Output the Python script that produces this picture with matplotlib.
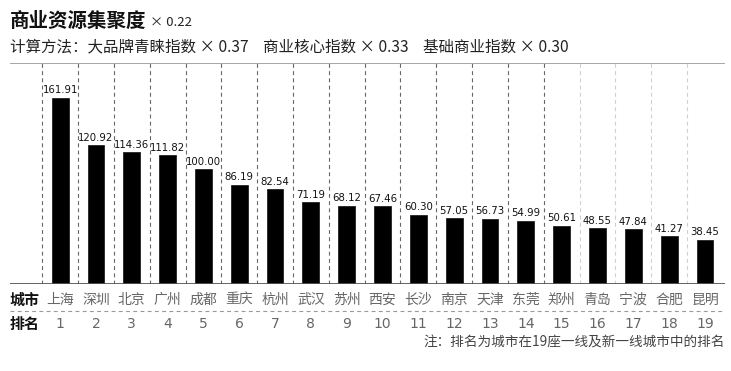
import numpy as np
import matplotlib.pyplot as plt

cities = ["上海", "深圳", "北京", "广州", "成都", "重庆", "杭州", "武汉", "苏州", "西安",
          "长沙", "南京", "天津", "东莞", "郑州", "青岛", "宁波", "合肥", "昆明"]
values = [161.91, 120.92, 114.36, 111.82, 100.00, 86.19, 82.54, 71.19, 68.12, 67.46,
          60.30, 57.05, 56.73, 54.99, 50.61, 48.55, 47.84, 41.27, 38.45]
ranks = list(range(1, 20))
weights = ["大品牌青睐指数 × 0.37", "商业核心指数 × 0.33", "基础商业指数 × 0.30"]

CJK = ["Noto Sans CJK SC", "DejaVu Sans"]
plt.rcParams["font.family"] = CJK

W, H = 731, 371
fig = plt.figure(figsize=(W / 100, H / 100), dpi=100)


def px(x, y):
    return x / W, 1 - y / H


# main axes: x 10..725 px, y 63..284 px
l, b = px(10, 284)
r, t = px(725, 63)
ax = fig.add_axes([l, b, r - l, t - b])

x = np.arange(1, len(values) + 1)
ax.bar(x, values, width=0.47, color="black", edgecolor="#222", linewidth=0.6, zorder=3)
for xi, v in zip(x, values):
    ax.text(xi, v + 2, f"{v:.2f}", ha="center", va="bottom", fontsize=7.3,
            family="DejaVu Sans", color="#111", zorder=4)

# dashed separators between bars
for k in range(len(values)):
    c = "#666" if k < 15 else "#cfcfcf"
    ax.axvline(k + 0.5, color=c, linestyle=(0, (3.5, 3)), linewidth=0.8, zorder=1)

ax.set_xlim(-0.4, 19.56)
ax.set_ylim(0, 192)
ax.axhline(192, color="#999", linewidth=1.2, zorder=2)
for s in ax.spines.values():
    s.set_visible(False)
ax.axhline(0, color="#555", linewidth=2, zorder=5)
ax.set_xticks([])
ax.set_yticks([])

# title
fig.text(*px(10, 21), "商业资源集聚度", fontsize=14, fontweight="bold",
         va="center", ha="left", color="#111")
fig.text(*px(150, 23), "× 0.22", fontsize=9.5, va="center", ha="left", color="#222")
fig.text(*px(10, 47), "计算方法：" + weights[0], fontsize=11.2, va="center", ha="left", color="#222")
fig.text(*px(263, 47), weights[1], fontsize=11.2, va="center", ha="left", color="#222")
fig.text(*px(423, 47), weights[2], fontsize=11.2, va="center", ha="left", color="#222")

# row labels
fig.text(*px(10, 300), "城市", fontsize=10.8, fontweight="bold", va="center", ha="left", color="#111")
fig.text(*px(10, 324), "排名", fontsize=10.8, fontweight="bold", va="center", ha="left", color="#111")
for xi, c, rk in zip(x, cities, ranks):
    xf = (ax.transData.transform((xi, 0))[0]) / W
    fig.text(xf, px(0, 300)[1], c, fontsize=10, va="center", ha="center", color="#666")
    fig.text(xf, px(0, 324)[1], str(rk), fontsize=10, va="center", ha="center",
             family="DejaVu Sans", color="#666")

# dashed row separator
line_y = px(0, 311)[1]
fig.add_artist(plt.Line2D([px(10, 0)[0], px(725, 0)[0]], [line_y, line_y],
                          color="#999", linestyle=(0, (3.5, 3)), linewidth=0.8))

fig.text(*px(725, 343), "注：排名为城市在19座一线及新一线城市中的排名", fontsize=9.8,
         va="center", ha="right", color="#444")

fig.savefig("out.png", dpi=100)
